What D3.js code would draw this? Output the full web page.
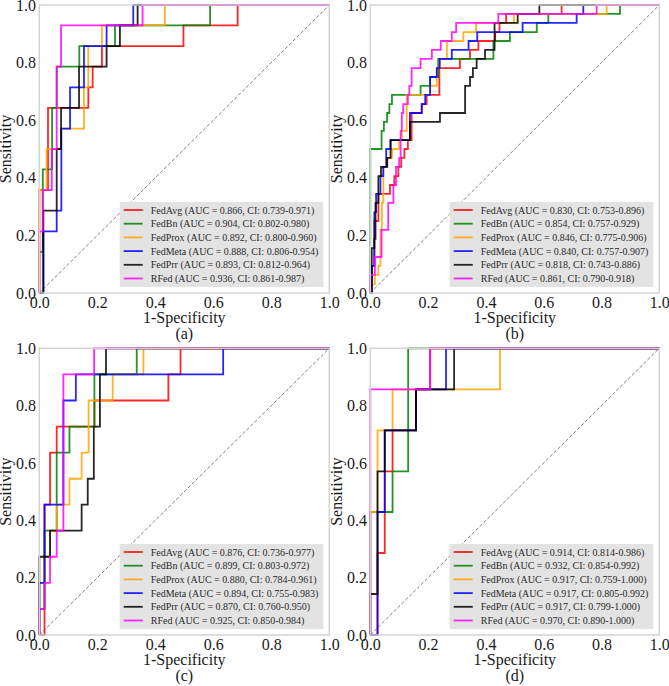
<!DOCTYPE html>
<html>
<head>
<meta charset="utf-8">
<script src="https://cdn.jsdelivr.net/npm/d3@7"></script>
<style>
    body { margin: 0; background: #fff; }
    svg text { font-family: "Liberation Serif", "Times New Roman", serif; }
</style>
</head>
<body>
<div id="chart"></div>
<script>
// method names, in legend order
const methods = ["FedAvg", "FedBn", "FedProx", "FedMeta", "FedPrr", "RFed"];
const ticks = [0, 0.2, 0.4, 0.6, 0.8, 1.0];

// legend values per panel
const aucA = ["0.866", "0.904", "0.892", "0.888", "0.893", "0.936"];
const ciA = ["0.739-0.971", "0.802-0.980", "0.800-0.960", "0.806-0.954", "0.812-0.964", "0.861-0.987"];
const aucB = ["0.830", "0.854", "0.846", "0.840", "0.818", "0.861"];
const ciB = ["0.753-0.896", "0.757-0.929", "0.775-0.906", "0.757-0.907", "0.743-0.886", "0.790-0.918"];
const aucC = ["0.876", "0.899", "0.880", "0.894", "0.870", "0.925"];
const ciC = ["0.736-0.977", "0.803-0.972", "0.784-0.961", "0.755-0.983", "0.760-0.950", "0.850-0.984"];
const aucD = ["0.914", "0.932", "0.917", "0.917", "0.917", "0.970"];
const ciD = ["0.814-0.986", "0.854-0.992", "0.759-1.000", "0.805-0.992", "0.799-1.000", "0.890-1.000"];

// ROC points [fpr, tpr]: the curve steps right, then up to each point
const aAvg = [[0,0],[0,0.357],[0.03,0.643],[0.169,0.714],[0.184,0.786],[0.216,0.857],[0.497,0.929],[0.684,1],[1,1]];
const aBn = [[0,0],[0,0.143],[0.012,0.429],[0.044,0.643],[0.06,0.786],[0.138,0.857],[0.261,0.929],[0.589,1],[1,1]];
const aProx = [[0,0],[0,0.357],[0.025,0.5],[0.075,0.571],[0.154,0.714],[0.169,0.857],[0.216,0.929],[0.433,1],[1,1]];
const aMeta = [[0,0],[0.014,0.214],[0.06,0.286],[0.076,0.571],[0.106,0.714],[0.154,0.857],[0.232,0.929],[0.324,1],[1,1]];
const aPrr = [[0,0],[0.014,0.286],[0.06,0.5],[0.075,0.643],[0.137,0.786],[0.232,0.857],[0.278,0.929],[0.339,1],[1,1]];
const aRFed = [[0,0],[0,0.214],[0.012,0.357],[0.043,0.5],[0.06,0.786],[0.075,0.929],[0.356,1],[1,1]];

const bAvg = [[0,0],[0.005,0.094],[0.014,0.25],[0.028,0.344],[0.068,0.375],[0.083,0.406],[0.097,0.438],[0.107,0.469],[0.118,0.5],[0.13,0.531],[0.143,0.625],[0.178,0.656],[0.195,0.688],[0.239,0.781],[0.31,0.813],[0.345,0.844],[0.374,0.875],[0.432,0.906],[0.447,0.938],[0.47,0.969],[0.662,1],[1,1]];
const bBn = [[0,0],[0,0.5],[0.039,0.563],[0.047,0.594],[0.058,0.625],[0.066,0.656],[0.075,0.688],[0.174,0.719],[0.207,0.75],[0.235,0.813],[0.426,0.875],[0.483,0.906],[0.576,0.938],[0.616,0.969],[0.864,1],[1,1]];
const bProx = [[0,0],[0,0.031],[0.016,0.063],[0.028,0.094],[0.035,0.219],[0.04,0.313],[0.045,0.438],[0.06,0.469],[0.075,0.5],[0.1,0.531],[0.109,0.563],[0.126,0.688],[0.207,0.719],[0.23,0.781],[0.24,0.813],[0.265,0.875],[0.322,0.906],[0.366,0.938],[0.497,0.969],[0.818,1],[1,1]];
const bMeta = [[0,0],[0.005,0.094],[0.014,0.281],[0.02,0.344],[0.035,0.406],[0.045,0.438],[0.055,0.5],[0.07,0.531],[0.137,0.625],[0.178,0.656],[0.19,0.688],[0.207,0.75],[0.23,0.781],[0.24,0.813],[0.282,0.844],[0.34,0.875],[0.37,0.906],[0.527,0.938],[0.714,0.969],[0.737,1],[1,1]];
const bPrr = [[0,0],[0.005,0.156],[0.014,0.188],[0.018,0.313],[0.028,0.406],[0.037,0.438],[0.058,0.469],[0.07,0.531],[0.137,0.594],[0.241,0.625],[0.328,0.719],[0.345,0.75],[0.355,0.781],[0.368,0.813],[0.397,0.844],[0.43,0.938],[0.51,0.969],[0.585,1],[1,1]];
const bRFed = [[0,0],[0,0.063],[0.016,0.125],[0.039,0.219],[0.062,0.313],[0.08,0.375],[0.089,0.438],[0.1,0.469],[0.105,0.563],[0.109,0.625],[0.114,0.656],[0.13,0.688],[0.135,0.719],[0.143,0.781],[0.174,0.813],[0.213,0.844],[0.244,0.875],[0.282,0.906],[0.297,0.938],[0.443,0.969],[0.783,1],[1,1]];

const cAvg = [[0,0],[0.018,0.455],[0.037,0.636],[0.06,0.727],[0.19,0.818],[0.445,0.909],[0.487,1],[1,1]];
const cBn = [[0,0],[0,0.091],[0.018,0.364],[0.06,0.636],[0.104,0.727],[0.19,0.909],[0.336,1],[1,1]];
const cProx = [[0,0],[0,0.182],[0.018,0.273],[0.037,0.364],[0.06,0.455],[0.104,0.545],[0.146,0.636],[0.17,0.818],[0.253,0.909],[0.359,1],[1,1]];
const cMeta = [[0,0],[0,0.182],[0.018,0.455],[0.083,0.818],[0.126,0.909],[0.634,1],[1,1]];
const cPrr = [[0,0],[0,0.273],[0.037,0.364],[0.146,0.455],[0.167,0.545],[0.188,0.727],[0.209,0.909],[0.23,1],[1,1]];
const cRFed = [[0,0],[0,0.091],[0.018,0.182],[0.037,0.273],[0.06,0.364],[0.083,0.909],[0.189,1],[1,1]];

const dAvg = [[0,0],[0.025,0.286],[0.05,0.571],[0.077,0.714],[0.158,0.857],[0.207,1],[1,1]];
const dBn = [[0,0],[0,0.429],[0.077,0.571],[0.131,1],[1,1]];
const dProx = [[0,0],[0,0.429],[0.025,0.714],[0.077,0.857],[0.449,1],[1,1]];
const dMeta = [[0,0],[0.025,0.429],[0.05,0.714],[0.158,0.857],[0.262,1],[1,1]];
const dPrr = [[0,0],[0,0.143],[0.025,0.571],[0.05,0.714],[0.158,0.857],[0.29,1],[1,1]];
const dRFed = [[0,0],[0,0.857],[0.207,1],[1,1]];

const colors = ["#ff0000", "#008000", "#ffa500", "#0000ff", "#000000", "#ff00ff"];

const svg = d3.select("#chart").append("svg")
    .attr("width", 669)
    .attr("height", 686);

const panels = [
    {curves: [aAvg, aBn, aProx, aMeta, aPrr, aRFed], auc: aucA, ci: ciA, x: 39.3, y: 5, w: 290, h: 288, tag: "(a)"},
    {curves: [bAvg, bBn, bProx, bMeta, bPrr, bRFed], auc: aucB, ci: ciB, x: 370.3, y: 5, w: 289, h: 288, tag: "(b)"},
    {curves: [cAvg, cBn, cProx, cMeta, cPrr, cRFed], auc: aucC, ci: ciC, x: 39.3, y: 348.3, w: 290, h: 286.7, tag: "(c)"},
    {curves: [dAvg, dBn, dProx, dMeta, dPrr, dRFed], auc: aucD, ci: ciD, x: 370.3, y: 348.3, w: 289, h: 286.7, tag: "(d)"}
];

panels.forEach(p => drawPanel(p));

function drawPanel(p) {
    const g = svg.append("g").attr("transform", `translate(${p.x},${p.y})`);

    const x = d3.scaleLinear().domain([0, 1]).range([0, p.w]);
    const y = d3.scaleLinear().domain([0, 1]).range([p.h, 0]);

    // chance line
    g.append("line")
        .attr("x1", x(0)).attr("y1", y(0))
        .attr("x2", x(1)).attr("y2", y(1))
        .attr("stroke", "#808080")
        .attr("stroke-width", 1)
        .attr("stroke-dasharray", "3.5,2");

    // roc curves
    const line = d3.line()
        .x(d => x(d[0]))
        .y(d => y(d[1]))
        .curve(d3.curveStepAfter);

    p.curves.forEach((c, i) => {
        g.append("path")
            .attr("d", line(c))
            .attr("fill", "none")
            .attr("stroke", colors[i])
            .attr("stroke-opacity", 0.85)
            .attr("stroke-width", 1.8);
    });

    // axes, no tick marks
    const xAxis = g.append("g")
        .attr("transform", `translate(0,${p.h})`)
        .call(d3.axisBottom(x).tickValues(ticks).tickFormat(d3.format(".1f")).tickSize(0).tickPadding(3.6));
    const yAxis = g.append("g")
        .call(d3.axisLeft(y).tickValues(ticks).tickFormat(d3.format(".1f")).tickSize(0).tickPadding(3.3));
    [xAxis, yAxis].forEach(a => {
        a.select(".domain").remove();
        a.attr("font-family", null).attr("font-size", null);
        a.selectAll("text").attr("font-size", 16).attr("fill", "#1a1a1a");
    });

    // frame on top of the curves
    g.append("rect")
        .attr("width", p.w)
        .attr("height", p.h)
        .attr("fill", "none")
        .attr("stroke", "#d3d3d3")
        .attr("stroke-width", 1.5);

    g.append("text")
        .attr("x", p.w / 2)
        .attr("y", p.h + 30)
        .attr("text-anchor", "middle")
        .attr("font-size", 16)
        .attr("fill", "#1a1a1a")
        .text("1-Specificity");

    g.append("text")
        .attr("transform", `translate(-28,${p.h / 2}) rotate(-90)`)
        .attr("text-anchor", "middle")
        .attr("font-size", 16)
        .attr("fill", "#1a1a1a")
        .text("Sensitivity");

    g.append("text")
        .attr("x", p.w / 2)
        .attr("y", p.h + 46)
        .attr("text-anchor", "middle")
        .attr("font-size", 16)
        .attr("fill", "#1a1a1a")
        .text(p.tag);

    // legend
    const leg = g.append("g");
    const bg = leg.append("rect").attr("fill", "#e3e3e3");
    const rowH = 13.7;
    const texts = [];
    methods.forEach((m, i) => {
        const ry = 8 + i * rowH;
        leg.append("line")
            .attr("x1", 4).attr("x2", 23)
            .attr("y1", ry).attr("y2", ry)
            .attr("stroke", colors[i])
            .attr("stroke-opacity", 0.85)
            .attr("stroke-width", 1.8);
        texts.push(leg.append("text")
            .attr("x", 31)
            .attr("y", ry)
            .attr("dy", "0.35em")
            .attr("font-size", 10)
            .attr("fill", "#2a2a2a")
            .text(`${m} (AUC = ${p.auc[i]}, CI: ${p.ci[i]})`));
    });
    const maxW = d3.max(texts, t => t.node().getComputedTextLength());
    const boxW = 31 + maxW + 5, boxH = 85;
    bg.attr("width", boxW).attr("height", boxH);
    leg.attr("transform", `translate(${p.w - 6 - boxW},${p.h - 6 - boxH})`);
}
</script>
</body>
</html>
